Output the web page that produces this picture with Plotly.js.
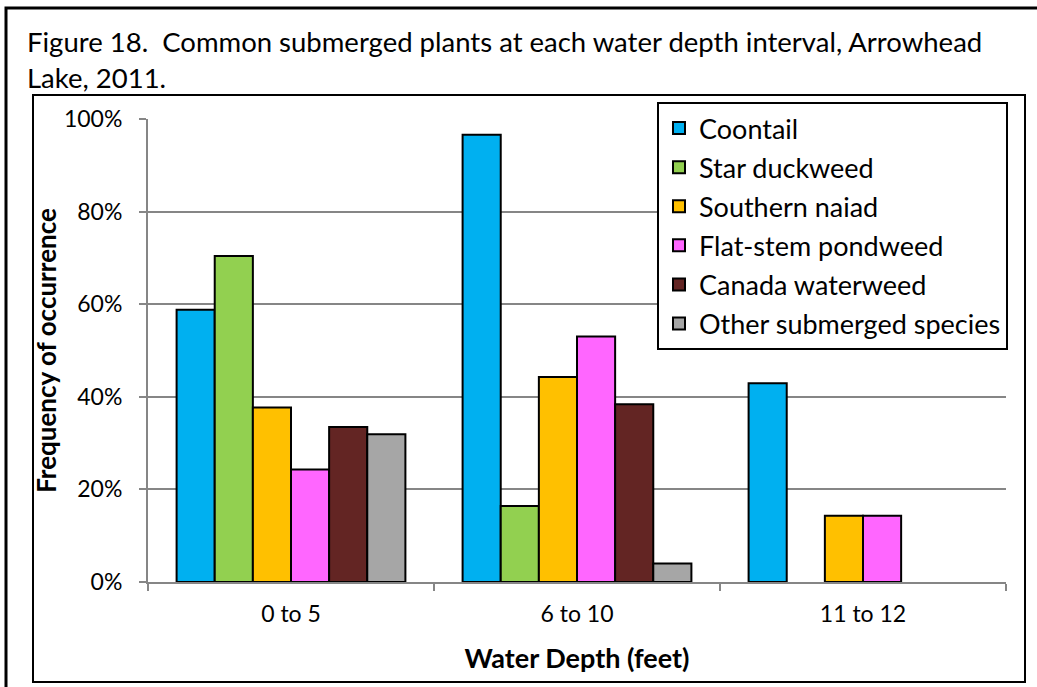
<!DOCTYPE html>
<html>
<head>
<meta charset="utf-8">
<script src="https://cdn.plot.ly/plotly-3.0.1.min.js"></script>
<style>
  html, body { margin: 0; padding: 0; background: #fff; }
  #chart { width: 1037px; height: 687px; }
</style>
</head>
<body>
<div id="chart"></div>
<script>
// ---- Data ----
const depthCategories = ["0 to 5", "6 to 10", "11 to 12"];
const seriesNames = ["Coontail", "Star duckweed", "Southern naiad", "Flat-stem pondweed", "Canada waterweed", "Other submerged species"];
const coontail = [0.588, 0.966, 0.429];
const starDuckweed = [0.704, 0.164, null];
const southernNaiad = [0.377, 0.443, 0.143];
const flatStemPondweed = [0.243, 0.530, 0.143];
const canadaWaterweed = [0.335, 0.384, null];
const otherSubmerged = [0.319, 0.040, null];
const yTickValues = [0, 0.2, 0.4, 0.6, 0.8, 1.0];

const seriesValues = [coontail, starDuckweed, southernNaiad, flatStemPondweed, canadaWaterweed, otherSubmerged];
const seriesColors = ["#00B0F0", "#92D050", "#FFC000", "#FF66FF", "#632523", "#A6A6A6"];

const FONT = "Lato, 'Open Sans', sans-serif";

const traces = seriesNames.map((name, i) => ({
  type: "bar",
  name: name,
  x: depthCategories,
  y: seriesValues[i],
  legendgroup: "g" + i,
  marker: { color: seriesColors[i], line: { color: "#000000", width: 2 } },
  hoverinfo: "skip"
}));

// plot area in pixels
const L = 148, R = 1006, T = 119, B = 582;
const W = R - L, H = B - T;
const px = x => (x - L) / W;
const py = y => (B - y) / H;

const layout = {
  width: 1037,
  height: 687,
  margin: { l: L, r: 1037 - R, t: T, b: 687 - B, pad: 0 },
  paper_bgcolor: "#ffffff",
  plot_bgcolor: "#ffffff",
  font: { family: FONT, size: 23, color: "#000000" },
  showlegend: true,
  barmode: "group",
  bargap: 0.2,
  bargroupgap: 0,
  title: {
    text: "Figure 18.  Common submerged plants at each water depth interval, Arrowhead<br>Lake, 2011.",
    font: { family: FONT, size: 27.5, color: "#000000" },
    x: 27 / 1037,
    xanchor: "left",
    xref: "container",
    y: 1 - 52 / 687,
    yanchor: "top",
    yref: "container"
  },
  xaxis: {
    type: "category",
    showgrid: false,
    showline: true,
    linecolor: "#868686",
    linewidth: 2,
    ticks: "outside",
    tickson: "boundaries",
    ticklen: 7,
    tickwidth: 2,
    tickcolor: "#868686",
    ticklabelstandoff: 10,
    tickfont: { family: FONT, size: 23, color: "#000000" },
    title: {
      text: "<b>Water Depth (feet)</b>",
      font: { family: FONT, size: 27, color: "#000000" },
      standoff: 24
    },
    automargin: false,
    fixedrange: true
  },
  yaxis: {
    range: [0, 1],
    tickvals: yTickValues,
    tickformat: ".0%",
    showgrid: true,
    gridcolor: "#868686",
    gridwidth: 2,
    zeroline: false,
    showline: true,
    linecolor: "#868686",
    linewidth: 2,
    ticks: "outside",
    ticklen: 7,
    tickwidth: 2,
    tickcolor: "#868686",
    ticklabelstandoff: 12,
    tickfont: { family: FONT, size: 23, color: "#000000" },
    title: {
      text: "<b>Frequency of occurrence</b>",
      font: { family: FONT, size: 26, color: "#000000" },
      standoff: 0
    },
    automargin: false,
    fixedrange: true
  },
  legend: {
    x: px(657),
    y: py(102),
    xanchor: "left",
    yanchor: "top",
    bgcolor: "#ffffff",
    bordercolor: "#000000",
    borderwidth: 2,
    font: { family: FONT, size: 27, color: "#000000" },
    traceorder: "grouped",
    tracegroupgap: 1,
    itemwidth: 30
  },
  shapes: [
    { type: "rect", xref: "paper", yref: "paper", x0: px(6), x1: px(1050), y0: py(700), y1: py(8),
      line: { color: "#000000", width: 3 }, fillcolor: "rgba(0,0,0,0)", layer: "below" },
    { type: "rect", xref: "paper", yref: "paper", x0: px(33), x1: px(1025), y0: py(682), y1: py(95),
      line: { color: "#000000", width: 2 }, fillcolor: "rgba(0,0,0,0)", layer: "below" }
  ]
};

Plotly.newPlot("chart", traces, layout, { staticPlot: true, displayModeBar: false });
</script>
</body>
</html>
